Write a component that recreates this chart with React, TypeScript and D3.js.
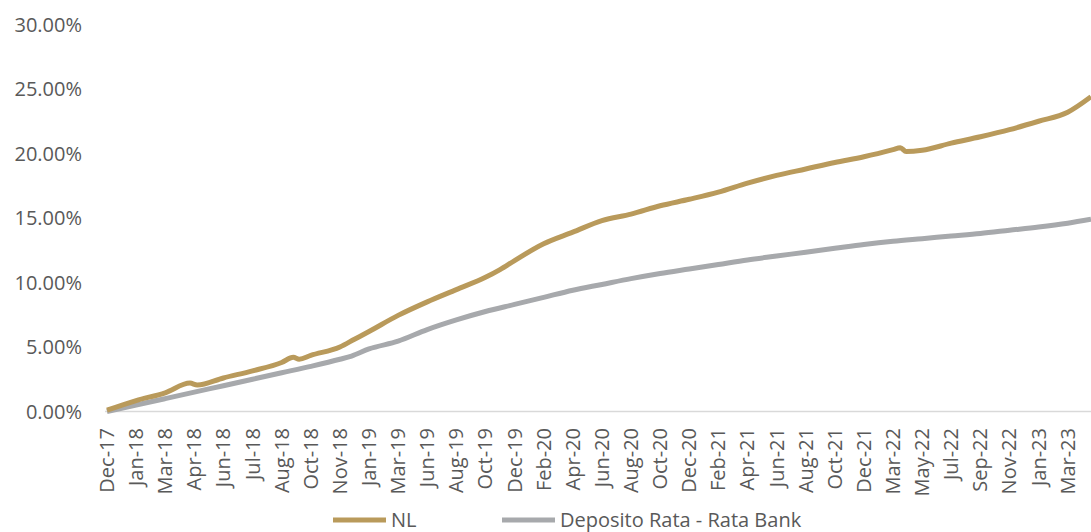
import React, { useEffect, useRef } from "react";
import * as d3 from "d3";

// category labels shown on the x axis (one every N trading days)
const periods = [
  "Dec-17", "Jan-18", "Mar-18", "Apr-18", "Jun-18", "Jul-18", "Aug-18", "Oct-18",
  "Nov-18", "Jan-19", "Mar-19", "Jun-19", "Aug-19", "Oct-19", "Dec-19", "Feb-20",
  "Apr-20", "Jun-20", "Aug-20", "Oct-20", "Dec-20", "Feb-21", "Apr-21", "Jun-21",
  "Aug-21", "Oct-21", "Dec-21", "Mar-22", "May-22", "Jul-22", "Sep-22", "Nov-22",
  "Jan-23", "Mar-23",
];

// position in label steps, cumulative return in %
const nlPos = [
  0, 1, 2, 2.85, 3.1, 4, 5, 6, 6.4, 6.6, 7, 8, 8.5, 9, 10, 11, 12, 13, 13.5, 14,
  15, 16, 17, 18, 19, 20, 21, 22, 23, 24, 25, 26, 27, 27.25, 27.45, 28, 29, 30,
  31, 32, 33, 33.8,
];
const nlValues = [
  0.1, 0.85, 1.45, 2.2, 2.05, 2.6, 3.15, 3.8, 4.2, 4.05, 4.35, 5.0, 5.6, 6.2, 7.45,
  8.5, 9.45, 10.4, 11.0, 11.7, 13.0, 13.9, 14.8, 15.3, 15.95, 16.45, 17.0, 17.7,
  18.3, 18.8, 19.3, 19.75, 20.3, 20.45, 20.15, 20.25, 20.8, 21.3, 21.85, 22.5,
  23.2, 24.4,
];

const depPos = [
  0, 1, 2, 3, 4, 5, 6, 7, 8, 8.4, 9, 10, 11, 12, 13, 14, 15, 16, 17, 18, 19, 20,
  21, 22, 23, 24, 25, 26, 27, 28, 29, 30, 31, 32, 33, 33.8,
];
const depValues = [
  0, 0.5, 1.0, 1.5, 2.0, 2.5, 3.0, 3.5, 4.05, 4.3, 4.85, 5.45, 6.35, 7.1, 7.75, 8.3,
  8.85, 9.4, 9.85, 10.3, 10.7, 11.05, 11.4, 11.75, 12.05, 12.35, 12.65, 12.95,
  13.2, 13.4, 13.6, 13.8, 14.05, 14.3, 14.6, 14.9,
];

const yTicks = [0, 5, 10, 15, 20, 25, 30];

const W = 1091;
const H = 532;
const FONT = "'Open Sans', sans-serif";
const GOLD = "#b99a5b";
const GREY = "#a7a9ac";

export default function App() {
  const ref = useRef<SVGSVGElement>(null);

  useEffect(() => {
    const svg = d3.select(ref.current);
    svg.selectAll("*").remove();

    const x = d3.scaleLinear().domain([0, 33.8]).range([107, 1091]);
    const y = d3.scaleLinear().domain([0, 30]).range([411.5, 24.5]);

    // baseline
    svg.append("line")
      .attr("x1", 105).attr("x2", W)
      .attr("y1", y(0)).attr("y2", y(0))
      .attr("stroke", "#d9d9d9").attr("stroke-width", 1.5);

    // y labels
    svg.append("g")
      .selectAll("text")
      .data(yTicks)
      .enter()
      .append("text")
      .attr("x", 82)
      .attr("y", d => y(d))
      .attr("dy", "0.35em")
      .attr("text-anchor", "end")
      .attr("font-family", FONT)
      .attr("font-size", 20)
      .attr("fill", "#595959")
      .text(d => d.toFixed(2) + "%");

    // x labels, rotated
    svg.append("g")
      .selectAll("text")
      .data(periods)
      .enter()
      .append("text")
      .attr("transform", (d, i) => `translate(${x(i)},428) rotate(-90)`)
      .attr("dy", "0.35em")
      .attr("text-anchor", "end")
      .attr("font-family", FONT)
      .attr("font-size", 20)
      .attr("fill", "#595959")
      .text(d => d);

    const line = d3.line<[number, number]>()
      .x(d => x(d[0]))
      .y(d => y(d[1]))
      .curve(d3.curveMonotoneX);

    svg.append("path")
      .attr("d", line(depPos.map((p, i) => [p, depValues[i]])))
      .attr("fill", "none")
      .attr("stroke", GREY)
      .attr("stroke-width", 5)
      .attr("stroke-linejoin", "round");

    svg.append("path")
      .attr("d", line(nlPos.map((p, i) => [p, nlValues[i]])))
      .attr("fill", "none")
      .attr("stroke", GOLD)
      .attr("stroke-width", 5)
      .attr("stroke-linejoin", "round");

    // legend
    const legend = [
      { name: "NL", color: GOLD, x: 333 },
      { name: "Deposito Rata - Rata Bank", color: GREY, x: 502 },
    ];
    const lg = svg.append("g");
    legend.forEach(l => {
      lg.append("line")
        .attr("x1", l.x).attr("x2", l.x + 53)
        .attr("y1", 520).attr("y2", 520)
        .attr("stroke", l.color).attr("stroke-width", 5);
      lg.append("text")
        .attr("x", l.x + 58)
        .attr("y", 520)
        .attr("dy", "0.35em")
        .attr("font-family", FONT)
        .attr("font-size", 20)
        .attr("fill", "#595959")
        .text(l.name);
    });
  }, []);

  return (
    <svg
      ref={ref}
      width={W}
      height={H}
      style={{ position: "absolute", left: 0, top: 0, background: "#fff" }}
    />
  );
}
